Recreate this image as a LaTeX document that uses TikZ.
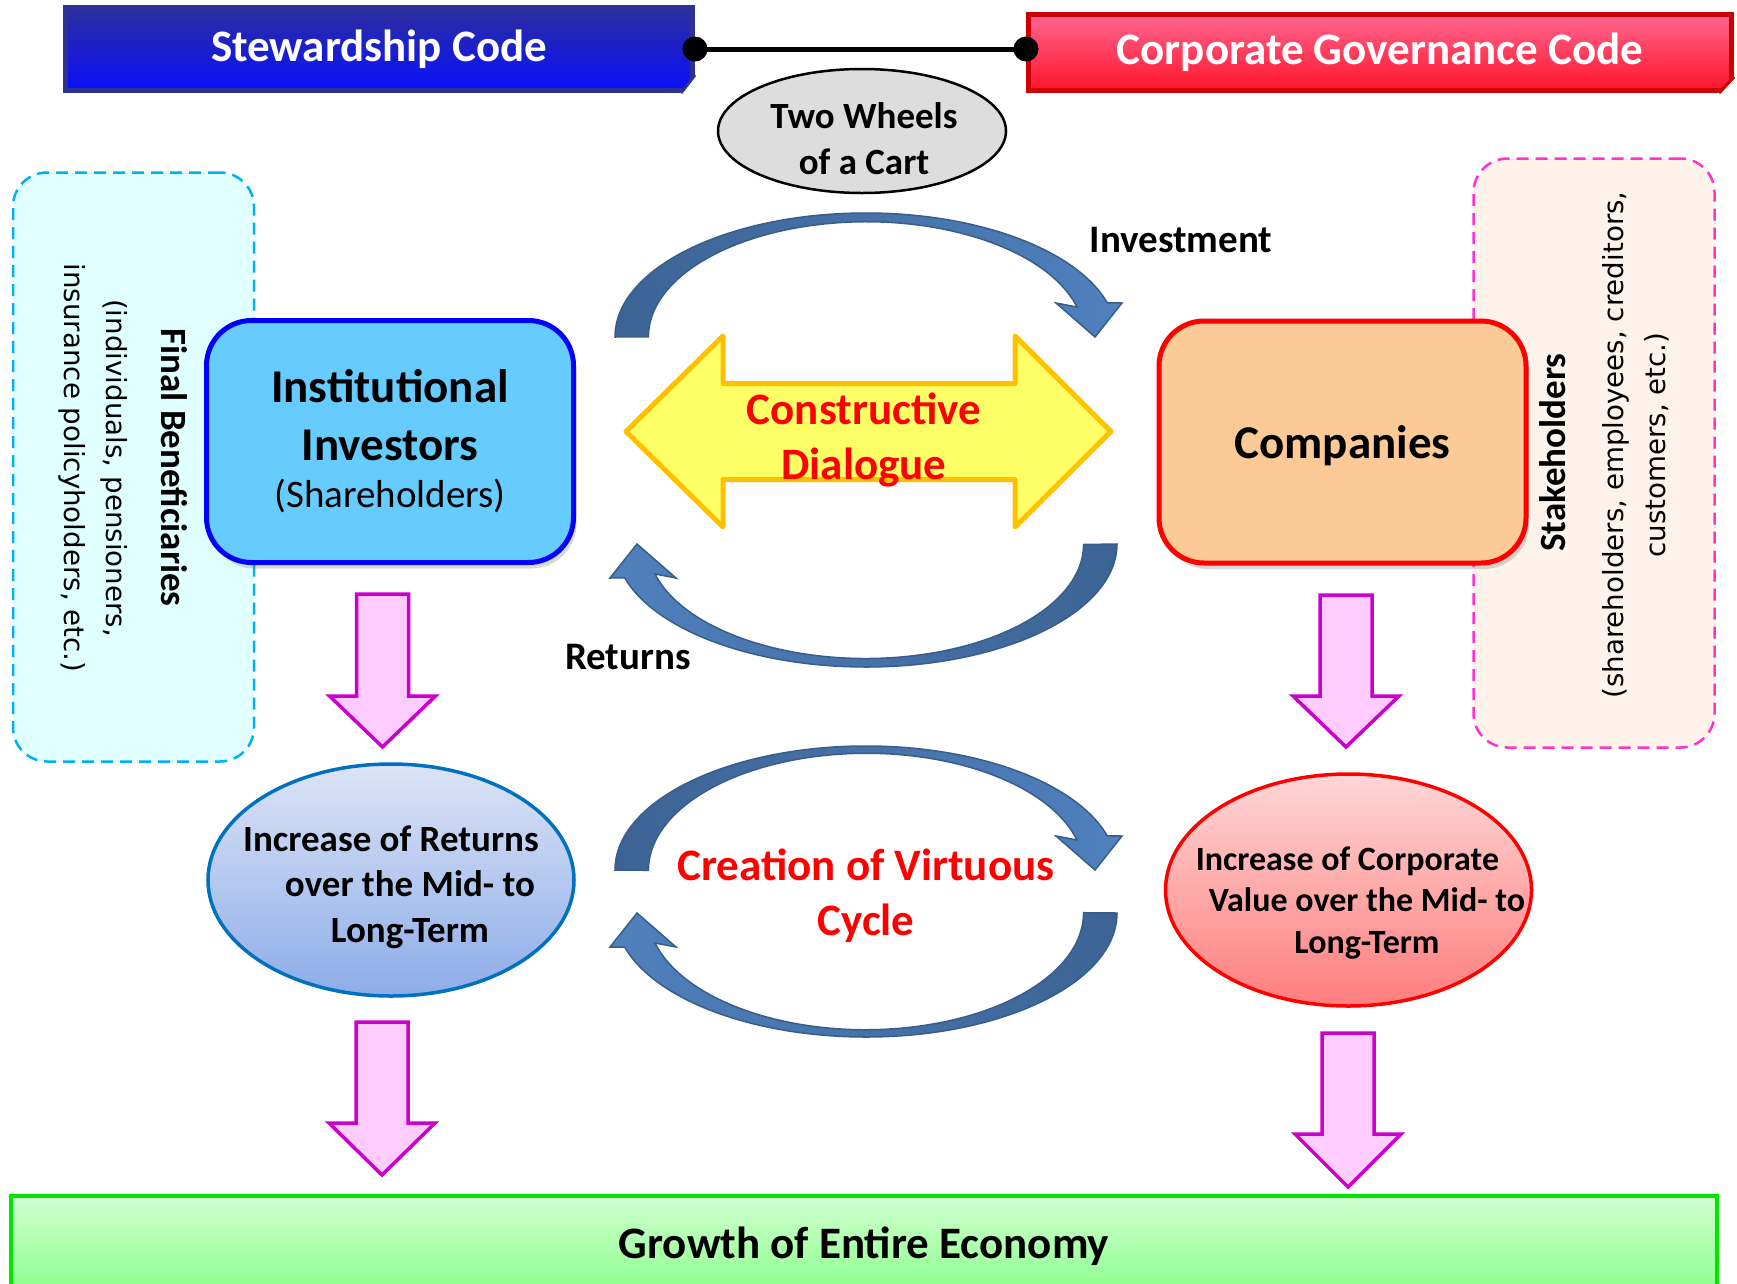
\documentclass[tikz,border=0pt]{standalone}
\usepackage{fontspec}
\setmainfont{Carlito}
\newfontfamily\sidefont{DejaVu Sans}
\usetikzlibrary{shapes.geometric,shadows}

\definecolor{scline}{RGB}{46,49,146}
\definecolor{sctop}{RGB}{44,46,158}
\definecolor{scbottom}{RGB}{10,16,250}
\definecolor{cgcline}{RGB}{204,0,0}
\definecolor{cgctop}{RGB}{255,102,145}
\definecolor{cgcbottom}{RGB}{255,20,40}
\definecolor{cartfill}{RGB}{221,221,221}
\definecolor{fbline}{RGB}{0,176,240}
\definecolor{fbfill}{RGB}{224,255,255}
\definecolor{shline}{RGB}{255,51,204}
\definecolor{shfill}{RGB}{253,243,234}
\definecolor{instline}{RGB}{0,0,255}
\definecolor{instfill}{RGB}{102,204,255}
\definecolor{compline}{RGB}{255,0,0}
\definecolor{compfill}{RGB}{252,202,150}
\definecolor{dialogfill}{RGB}{255,255,102}
\definecolor{dialogline}{RGB}{255,192,0}
\definecolor{arrowdark}{RGB}{60,99,148}
\definecolor{arrowlight}{RGB}{79,129,189}
\definecolor{arrowline}{RGB}{56,93,138}
\definecolor{pinkfill}{RGB}{255,204,255}
\definecolor{pinkline}{RGB}{204,0,204}
\definecolor{irline}{RGB}{0,112,192}
\definecolor{irtop}{RGB}{220,228,246}
\definecolor{irbottom}{RGB}{141,172,232}
\definecolor{cvline}{RGB}{255,0,0}
\definecolor{cvtop}{RGB}{255,214,214}
\definecolor{cvbottom}{RGB}{255,125,125}
\definecolor{growthline}{RGB}{0,230,0}
\definecolor{growthtop}{RGB}{208,255,208}
\definecolor{growthbottom}{RGB}{136,255,136}

\begin{document}
\begin{tikzpicture}[x=1pt, y=-1pt,
    codebox/.style={draw, line width=5pt, inner sep=0pt, text=white, font=\fontsize{45pt}{54pt}\selectfont\bfseries},
    sidebox/.style={rounded corners=34pt, dash pattern=on 12pt off 7pt, line width=2.5pt, minimum width=241pt, minimum height=589pt},
    mainbox/.style={rounded corners=45pt, line width=5pt, minimum width=367pt, minimum height=242pt, align=center,
        font=\fontsize{47pt}{58pt}\selectfont\bfseries, drop shadow={shadow xshift=3pt, shadow yshift=-6pt, opacity=0.3}},
    oval/.style={ellipse, line width=3.5pt, minimum width=366pt, minimum height=232pt},
    ovaltext/.style={align=center, font=\fontsize{37pt}{45.5pt}\selectfont\bfseries},
    sidetitle/.style={font=\fontsize{37pt}{44pt}\selectfont\bfseries},
    sidetext/.style={align=center, font=\fontsize{27.7pt}{41.5pt}\selectfont\sidefont},
    redtext/.style={align=center, text=red, font=\fontsize{45pt}{55pt}\selectfont\bfseries},
    flowlabel/.style={font=\fontsize{39pt}{47pt}\selectfont\bfseries},
    pinkarrow/.style={fill=pinkfill, draw=pinkline, line width=3.5pt},
    cyclearrow/.style={draw=arrowline, line width=1.5pt}]
    \useasboundingbox (0,0) rectangle (1737,1283);

    \node[sidebox, draw=fbline, fill=fbfill] (fb) at (133.5,467) {};
    \node[sidebox, draw=shline, fill=shfill] (sh) at (1594,453) {};
    \node[sidetitle, rotate=-90] (fbtitle) at (174,467.5) {Final Beneficiaries};
    \node[sidetext, rotate=-90] (fbtext) at (93,468) {(individuals, pensioners,\\insurance policyholders, etc.)};
    \node[sidetitle, rotate=90] (shtitle) at (1553,452.5) {Stakeholders};
    \node[sidetext, rotate=90] (shtext) at (1636,445) {(shareholders, employees, creditors,\\customers, etc.)};

    \node[codebox, draw=scline, top color=sctop, bottom color=scbottom, minimum width=627pt, minimum height=83pt] (sc) at (379,49) {Stewardship Code};
    \node[codebox, draw=cgcline, top color=cgctop, bottom color=cgcbottom, minimum width=703pt, minimum height=76pt] (cgc) at (1380,52.5) {Corporate Governance Code};
    \fill[white] (696,74) -- (696,94) -- (679,94) -- cycle;
    \draw[scline, line width=3pt] (695,75) -- (681,93);
    \fill[white] (1735,76) -- (1735,94) -- (1717,94) -- cycle;
    \draw[cgcline, line width=3pt] (1734,77) -- (1719,93);
    \draw[line width=5pt] (sc.east) -- (sc.east -| cgc.west);
    \foreach \p in {(sc.east), (sc.east -| cgc.west)}
        \fill \p circle[radius=12.5pt];

    \node[ellipse, draw, line width=2.5pt, fill=cartfill, minimum width=288pt, minimum height=124pt] (cart) at (862,131) {};
    \node[align=center, font=\fontsize{37pt}{46pt}\selectfont\bfseries] (carttext) at (864,139) {Two Wheels\\of a Cart};

    \node[mainbox, draw=instline, fill=instfill] (inst) at (390,441.5) {Institutional\\Investors\\[-11pt]{\normalfont\fontsize{39pt}{46pt}\selectfont (Shareholders)}};
    \node[mainbox, draw=compline, fill=compfill] (comp) at (1342.5,442) {\raisebox{-4pt}[\height][\depth]{Companies}};

    \filldraw[fill=dialogfill, draw=dialogline, line width=5pt, line join=round] (626,431.5) -- (723,336) -- (723,383.5) -- (1015,383.5) -- (1015,336) -- (1111,431.5)
        -- (1015,527) -- (1015,479.5) -- (723,479.5) -- (723,527) -- cycle;
    \node[redtext] (dialog) at (864,440) {Constructive\\Dialogue};

    \foreach \b/\ro/\ri/\turn/\ca/\cb in {337/124/115/0/arrowdark/arrowlight, 544/123/114/180/arrowlight/arrowdark,
            870/124/117/0/arrowdark/arrowlight, 913/124/117/180/arrowlight/arrowdark}
        \shadedraw[cyclearrow, left color=\ca, right color=\cb, shift={(866,\b)}, rotate=\turn]
            (-251,0) arc[start angle=180, end angle=344, x radius=251, y radius=\ro] -- (256,-34) -- (229,0) -- (190,-34)
            -- (211,-30) arc[start angle=345, end angle=180, x radius=218, y radius=\ri] -- cycle;
    \node[flowlabel] (invest) at (1181,240) {Investment};
    \node[flowlabel] (returns) at (628,657) {Returns};

    \foreach \cx/\ya/\yb/\yc in {382.5/594/696/747, 1346/595/696/747, 382/1022/1123/1175, 1348/1033/1134/1187}
        \filldraw[pinkarrow] (\cx-26,\ya) -- (\cx+26,\ya) -- (\cx+26,\yb) -- (\cx+53,\yb) -- (\cx,\yc) -- (\cx-53,\yb) -- (\cx-26,\yb) -- cycle;

    \node[oval, draw=irline, top color=irtop, bottom color=irbottom] (ir) at (391,880) {};
    \node[ovaltext] (irtext) at (391,887) {Increase of Returns\\\hspace{38pt}over the Mid- to\\\hspace{38pt}Long-Term};
    \node[oval, draw=cvline, top color=cvtop, bottom color=cvbottom] (cv) at (1348.5,890) {};
    \node[ovaltext, font=\fontsize{34pt}{41.5pt}\selectfont\bfseries] (cvtext) at (1347.5,903) {Increase of Corporate\\\hspace{39pt}Value over the Mid- to\\\hspace{39pt}Long-Term};
    \node[redtext] (virtuous) at (866,896) {Creation of Virtuous\\Cycle};

    \shadedraw[top color=growthtop, bottom color=growthbottom, draw=growthline, line width=4pt] (11,1196) rectangle (1717,1300);
    \node[font=\fontsize{45pt}{54pt}\selectfont\bfseries] (growth) at (864,1246) {Growth of Entire Economy};
\end{tikzpicture}
\end{document}
